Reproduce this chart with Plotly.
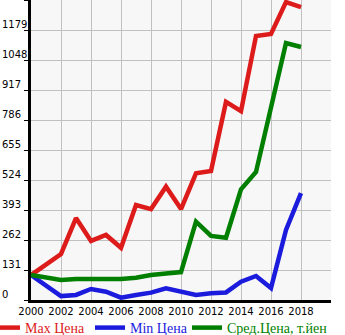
import plotly.graph_objects as go

years = [2000, 2002, 2003, 2004, 2005, 2006, 2007, 2008, 2009, 2010,
         2011, 2012, 2013, 2014, 2015, 2016, 2017, 2018]
max_price = [109, 201, 358, 258, 284, 228, 415, 397, 495, 397, 553, 563, 865, 825, 1153, 1162, 1301, 1279]
min_price = [109, 17, 22, 48, 36, 10, 22, 32, 51, 36, 22, 29, 33, 80, 105, 52, 306, 467]
avg_price = [109, 87, 92, 92, 92, 92, 97, 109, 116, 122, 342, 280, 272, 483, 559, 840, 1122, 1105]

series_names = ["Max Цена", "Min Цена", "Сред.Цена, т.йен"]
series_colors = ["#dd1b1b", "#1b1bdd", "#007f00"]
series_legends = ["legend", "legend", "legend2"]

y_ticks = [0, 131, 262, 393, 524, 655, 786, 917, 1048, 1179]
x_ticks = [2000, 2002, 2004, 2006, 2008, 2010, 2012, 2014, 2016, 2018]
x_max, y_max = 2020, 1310

fig = go.Figure()
for name, vals, col, lg in zip(series_names, [max_price, min_price, avg_price],
                               series_colors, series_legends):
    fig.add_trace(go.Scatter(
        x=years, y=vals, mode="lines", line=dict(color=col, width=4.5),
        name=f"<span style='color:{col}'>{name}</span>", legend=lg, hoverinfo="skip"))

fig.update_xaxes(
    range=[2000, x_max], tickvals=x_ticks + [x_max],
    ticktext=[str(v) for v in x_ticks] + [""],
    showgrid=True, gridcolor="#c0c0c0", gridwidth=1,
    showline=True, linecolor="black", linewidth=3,
    ticks="", tickfont=dict(family="DejaVu Sans", size=10, color="black"),
    zeroline=False)
fig.update_yaxes(
    range=[0, y_max], tickvals=y_ticks + [y_max], showticklabels=False,
    showgrid=True, gridcolor="#c0c0c0", gridwidth=1,
    showline=True, linecolor="black", linewidth=3,
    ticks="outside", ticklen=4, tickcolor="black", tickwidth=1,
    zeroline=False)

# left-aligned value labels sitting just above each grid line
for v in y_ticks:
    fig.add_annotation(
        xref="paper", yref="y", x=-31 / 300, y=v, text=str(v),
        xanchor="left", yanchor="bottom", showarrow=False, yshift=-2,
        font=dict(family="DejaVu Sans", size=10, color="black"))

legend_style = dict(orientation="h", xanchor="left", y=-0.04, yanchor="top",
                    font=dict(family="Liberation Serif", size=14),
                    itemwidth=30, bgcolor="rgba(0,0,0,0)")

fig.update_layout(
    width=345, height=335,
    margin=dict(l=31, r=14, t=0, b=35, autoexpand=False),
    paper_bgcolor="white", plot_bgcolor="#f7f7f7",
    showlegend=True,
    legend=dict(x=-46 / 300, **legend_style),
    legend2=dict(x=156 / 300, **legend_style),
)

fig.write_html("out.html")
